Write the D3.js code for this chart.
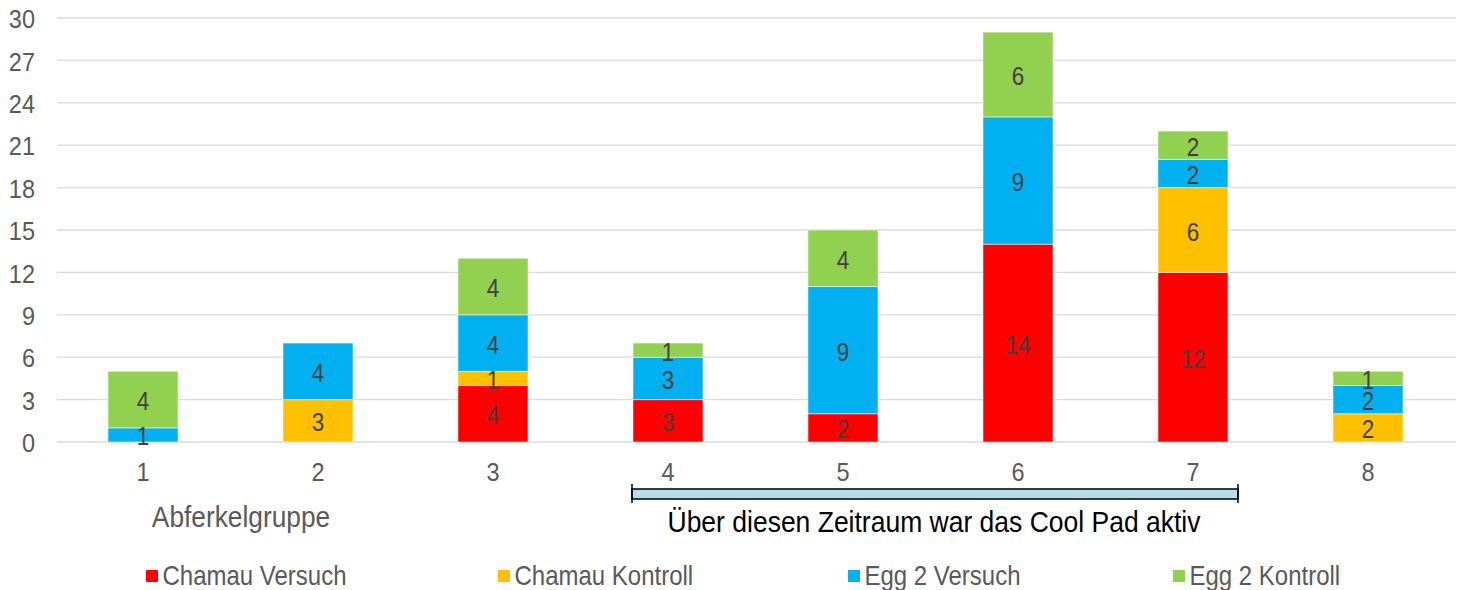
<!DOCTYPE html>
<html><head><meta charset="utf-8">
<script src="https://cdn.jsdelivr.net/npm/d3@7"></script>
<style>body{margin:0;background:#fff;}svg{display:block;font-family:"Liberation Sans",Arial,sans-serif;}</style>
</head><body><svg id="c" width="1462" height="590"></svg>
<script>
const categories = ["1","2","3","4","5","6","7","8"];
const seriesNames = ["Chamau Versuch","Chamau Kontroll","Egg 2 Versuch","Egg 2 Kontroll"];
const chamauVersuch = [0,0,4,3,2,14,12,0];
const chamauKontroll = [0,3,1,0,0,0,6,2];
const egg2Versuch = [1,4,4,3,9,9,2,2];
const egg2Kontroll = [4,0,4,1,4,6,2,1];
const yTicks = [0,3,6,9,12,15,18,21,24,27,30];
const colors = ["#FF0000","#FFC000","#00B0F0","#92D050"];
const xTitle = "Abferkelgruppe";
const bracketText = "Über diesen Zeitraum war das Cool Pad aktiv";

const SY = 1.12;
const svg = d3.select("#c");
const x = d3.scaleBand().domain(categories).range([55.5,1455.5]).paddingInner(0.6).paddingOuter(0.3);
const y = d3.scaleLinear().domain([0,30]).range([442,18]);

function place(sel, fx, fy, size) {
  sel.attr("transform", (d,i)=>`translate(${fx(d,i)},${fy(d,i)}) scale(1,${SY})`)
     .attr("dy","0.358em").attr("font-size",size);
  return sel;
}

// gridlines
svg.append("g").selectAll("line").data(yTicks).join("line")
  .attr("x1",57).attr("x2",1456).attr("y1",d=>y(d)).attr("y2",d=>y(d))
  .attr("stroke","#d9d9d9").attr("stroke-width",1.3);
// y labels
place(svg.append("g").selectAll("text").data(yTicks).join("text"), ()=>35, d=>y(d)+0.8, 23.5)
  .attr("text-anchor","end").attr("fill","#595959").text(d=>d);

const rows = categories.map((c,i)=>({cat:c, "Chamau Versuch":chamauVersuch[i], "Chamau Kontroll":chamauKontroll[i], "Egg 2 Versuch":egg2Versuch[i], "Egg 2 Kontroll":egg2Kontroll[i]}));
const stack = d3.stack().keys(seriesNames)(rows);

const g = svg.append("g");
stack.forEach((s,si)=>{
  g.append("g").selectAll("rect").data(s.filter(d=>d[1]-d[0]>0)).join("rect")
    .attr("x",d=>x(d.data.cat)).attr("width",x.bandwidth())
    .attr("y",d=>y(d[1])).attr("height",d=>y(d[0])-y(d[1]))
    .attr("fill",colors[si]).attr("stroke","#ffffff").attr("stroke-opacity",0.5).attr("stroke-width",1);
});
stack.forEach((s,si)=>{
  place(g.append("g").selectAll("text").data(s.filter(d=>d[1]-d[0]>0)).join("text"),
    d=>x(d.data.cat)+x.bandwidth()/2, d=>(y(d[0])+y(d[1]))/2+1.5, 22.5)
    .attr("text-anchor","middle").attr("fill","#404040").text(d=>d[1]-d[0]);
});

// x labels
place(svg.append("g").selectAll("text").data(categories).join("text"),
  d=>x(d)+x.bandwidth()/2, ()=>471.5, 23.5)
  .attr("text-anchor","middle").attr("fill","#595959").text(d=>d);

place(svg.append("text").datum(0), ()=>241, ()=>516, 26.3)
  .attr("text-anchor","middle").attr("fill","#595959").text(xTitle);

// bracket
const bx0 = 632, bx1 = 1238;
svg.append("rect").attr("x",bx0).attr("y",489).attr("width",bx1-bx0).attr("height",10)
  .attr("fill","#B7DEE8").attr("stroke","#000").attr("stroke-width",1.5);
svg.append("line").attr("x1",bx0).attr("x2",bx0).attr("y1",484).attr("y2",503).attr("stroke","#000").attr("stroke-width",1.5);
svg.append("line").attr("x1",bx1).attr("x2",bx1).attr("y1",484).attr("y2",503).attr("stroke","#000").attr("stroke-width",1.5);
place(svg.append("text").datum(0), ()=>934, ()=>521, 26.5)
  .attr("text-anchor","middle").attr("fill","#000").text(bracketText);

// legend
const legX = [146,498,848,1173];
const lg = svg.append("g");
seriesNames.forEach((n,i)=>{
  lg.append("rect").attr("x",legX[i]).attr("y",570).attr("width",12).attr("height",12).attr("fill",colors[i]);
  place(lg.append("text").datum(0), ()=>legX[i]+16.5, ()=>575.5, 24)
    .attr("fill","#595959").text(n);
});
</script></body></html>
